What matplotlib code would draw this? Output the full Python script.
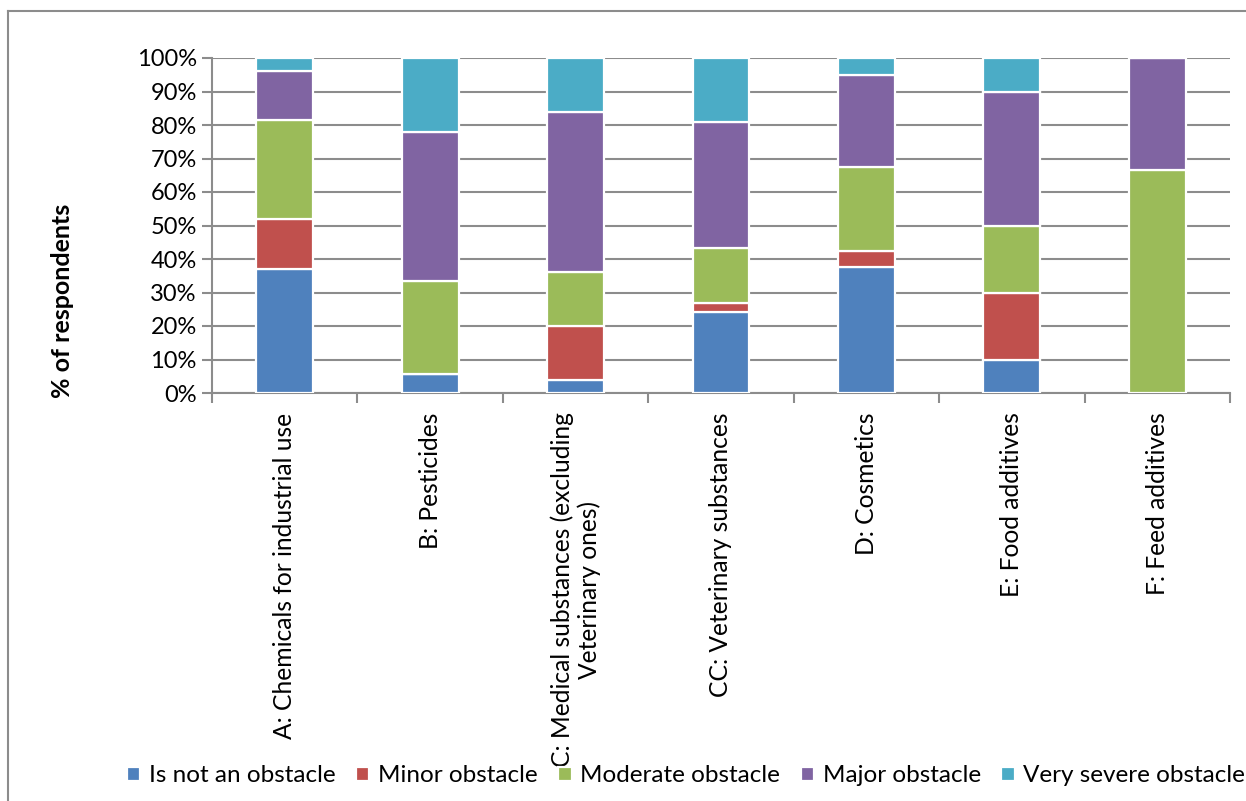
import numpy as np
import matplotlib
matplotlib.use("Agg")
import matplotlib.pyplot as plt
from matplotlib.lines import Line2D

categories = [
    "A: Chemicals for industrial use",
    "B: Pesticides",
    "C: Medical substances (excluding\nVeterinary ones)",
    "CC: Veterinary substances",
    "D: Cosmetics",
    "E: Food additives",
    "F: Feed additives",
]
series = ["Is not an obstacle", "Minor obstacle", "Moderate obstacle",
          "Major obstacle", "Very severe obstacle"]

# shares of respondents per category (%), one list per obstacle level
not_obstacle = [37.0, 5.6, 4.0, 24.3, 37.5, 10.0, 0.0]
minor = [14.8, 0.0, 16.0, 2.7, 5.0, 20.0, 0.0]
moderate = [29.6, 27.8, 16.0, 16.2, 25.0, 20.0, 66.7]
major = [14.8, 44.4, 48.0, 37.8, 27.5, 40.0, 33.3]
very_severe = [3.7, 22.2, 16.0, 18.9, 5.0, 10.0, 0.0]

colors = ["#4F81BD", "#C0504D", "#9BBB59", "#8064A2", "#4BACC6"]

plt.rcParams["font.family"] = ["Lato", "DejaVu Sans"]

W, H = 1246, 801
fig = plt.figure(figsize=(W / 100, H / 100), dpi=100)
ax = fig.add_axes([212 / W, 1 - 393 / H, (1230 - 212) / W, (393 - 58) / H])

x = np.arange(len(categories))
bottom = np.zeros(len(categories))
for name, vals, c in zip(series, [not_obstacle, minor, moderate, major, very_severe], colors):
    vals = np.array(vals)
    ax.bar(x, vals, 0.39, bottom=bottom, color=c, edgecolor="white",
           linewidth=1.6, label=name, zorder=3)
    bottom += vals

ax.set_xlim(-0.5, len(categories) - 0.5)
ax.set_ylim(0, 100)
ax.set_yticks(np.arange(0, 101, 10))
ax.set_yticklabels([f"{v}%" for v in range(0, 101, 10)], fontsize=17)
ax.yaxis.grid(True, color="#8c8c8c", linewidth=1.5, zorder=0)
ax.tick_params(axis="y", length=7, width=1.5, color="#8c8c8c", pad=4)

# category labels between boundary ticks
ax.set_xticks(x)
ax.set_xticklabels(categories, rotation=90, fontsize=17.7,
                   va="top", ha="center", multialignment="center")
ax.tick_params(axis="x", length=0, pad=14)
ax.set_xticks(np.arange(-0.5, len(categories)), minor=True)
ax.tick_params(axis="x", which="minor", length=7, width=1.5, color="#8c8c8c")

for side in ["top", "right"]:
    ax.spines[side].set_visible(False)
for side in ["left", "bottom"]:
    ax.spines[side].set_color("#8c8c8c")
    ax.spines[side].set_linewidth(1.5)

fig.text(62 / W, 1 - 301 / H, "% of respondents", rotation=90, fontsize=18,
         fontweight="bold", ha="center", va="center")

fig.legend(*ax.get_legend_handles_labels(), loc="center", ncol=5,
           bbox_to_anchor=(686 / W, 1 - 776 / H), frameon=False, fontsize=17.5,
           handlelength=0.55, handleheight=0.55, handletextpad=0.35,
           columnspacing=0.85, borderaxespad=0)

# outer chart frame
fig.add_artist(Line2D([8 / W, 1.0], [1 - 11 / H] * 2, color="#8c8c8c", lw=1.5))
fig.add_artist(Line2D([8 / W] * 2, [0.0, 1 - 11 / H], color="#8c8c8c", lw=1.5))

fig.savefig("out.png", dpi=100)
